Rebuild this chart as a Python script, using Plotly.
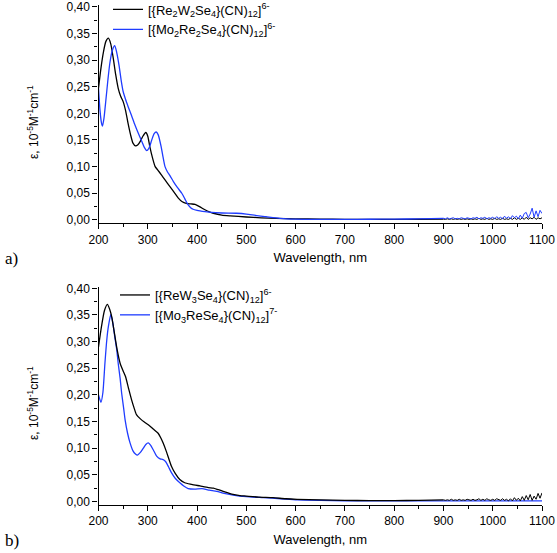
import plotly.graph_objects as go

# ---------------- data ----------------
# panel a) [{Re2W2Se4}(CN)12]6-
a_black_nm = [200, 205, 210, 215, 220, 225, 230, 235, 240, 245, 250, 255, 260, 265, 270, 275,
              280, 285, 290, 296, 300, 304, 310, 315, 320, 328, 335, 345, 355, 362, 370, 378,
              388, 396, 405, 416, 425, 433, 450, 467, 500, 530, 560, 600, 650, 700, 750, 800,
              850, 900]
a_black_val = [0.247, 0.285, 0.315, 0.335, 0.341, 0.330, 0.303, 0.272, 0.247, 0.232, 0.222,
               0.205, 0.181, 0.160, 0.144, 0.139, 0.141, 0.148, 0.157, 0.164, 0.157, 0.138,
               0.115, 0.100, 0.094, 0.084, 0.075, 0.0625, 0.050, 0.041, 0.034, 0.031, 0.030,
               0.029, 0.025, 0.019, 0.015, 0.0125, 0.009, 0.0075, 0.0055, 0.004, 0.003, 0.002,
               0.0015, 0.001, 0.001, 0.001, 0.0012, 0.0015]

# panel a) [{Mo2Re2Se4}(CN)12]6-
a_blue_nm = [200, 203, 206, 208, 211, 215, 219, 223, 228, 233, 237, 242, 246, 250, 255, 260,
             267, 274, 281, 288, 293, 298, 303, 308, 313, 317, 321, 327, 331, 335, 340, 345,
             352, 360, 369, 375, 382, 387, 392, 400, 416, 430, 450, 480, 500, 521, 540, 568,
             600, 650, 700, 750, 800, 850, 900]
a_blue_val = [0.247, 0.206, 0.182, 0.176, 0.190, 0.225, 0.262, 0.294, 0.318, 0.327, 0.314,
              0.288, 0.262, 0.241, 0.226, 0.213, 0.196, 0.178, 0.162, 0.147, 0.136, 0.130,
              0.136, 0.150, 0.162, 0.165, 0.160, 0.138, 0.118, 0.100, 0.090, 0.083, 0.072,
              0.061, 0.050, 0.040, 0.028, 0.023, 0.020, 0.018, 0.0156, 0.014, 0.013, 0.0125,
              0.011, 0.008, 0.006, 0.003, 0.0015, 0.001, 0.001, 0.0012, 0.0015, 0.002, 0.003]

# noisy tail 900-1100 nm
tail_nm = [900, 904, 908, 912, 916, 920, 924, 928, 932, 936, 940, 944, 948, 952, 956, 960,
           964, 968, 972, 976, 980, 984, 988, 992, 996, 1000, 1004, 1008, 1012, 1016, 1020,
           1024, 1028, 1032, 1036, 1040, 1044, 1048, 1052, 1056, 1060, 1064, 1068, 1072, 1076,
           1080, 1084, 1088, 1092, 1096, 1100]
a_black_tail = [0.0015, 0.001, 0.002, 0.001, 0.002, 0.001, 0.002, 0.001, 0.002, 0.001, 0.002,
                0.001, 0.002, 0.001, 0.002, 0.001, 0.002, 0.001, 0.003, 0.001, 0.002, 0.001,
                0.003, 0.001, 0.002, 0.001, 0.003, 0.001, 0.002, 0.001, 0.003, 0.001, 0.002,
                0.001, 0.003, 0.001, 0.004, 0.001, 0.003, 0.001, 0.004, 0.001, 0.005, 0.001,
                0.004, 0.002, 0.005, 0.001, 0.004, 0.002, 0.004]
a_blue_tail = [0.003, 0.002, 0.004, 0.002, 0.003, 0.004, 0.002, 0.003, 0.002, 0.004, 0.003,
               0.002, 0.004, 0.003, 0.002, 0.004, 0.003, 0.005, 0.002, 0.004, 0.003, 0.005,
               0.002, 0.004, 0.003, 0.005, 0.002, 0.006, 0.003, 0.005, 0.002, 0.007, 0.003,
               0.006, 0.002, 0.008, 0.004, 0.007, 0.002, 0.009, 0.003, 0.012, 0.014, 0.004,
               0.011, 0.022, 0.005, 0.017, 0.006, 0.018, 0.012]

# panel b) [{ReW3Se4}(CN)12]6-
b_black_nm = [200, 206, 212, 218, 223, 227, 233, 238, 244, 250, 255, 261, 267, 272, 277, 285,
              293, 301, 311, 321, 326, 331, 338, 348, 356, 365, 375, 389, 406, 423, 433, 443,
              453, 463, 473, 487, 500, 525, 554, 580, 603, 650, 700, 750, 800, 850, 900]
b_black_val = [0.290, 0.328, 0.358, 0.370, 0.360, 0.346, 0.312, 0.284, 0.259, 0.245, 0.234,
               0.212, 0.191, 0.176, 0.163, 0.155, 0.149, 0.144, 0.136, 0.128, 0.120, 0.110,
               0.093, 0.066, 0.052, 0.041, 0.035, 0.032, 0.029, 0.026, 0.025, 0.022, 0.019,
               0.016, 0.013, 0.011, 0.010, 0.008, 0.007, 0.005, 0.004, 0.003, 0.002, 0.0015,
               0.0015, 0.002, 0.003]
b_black_tail = [0.003, 0.002, 0.003, 0.002, 0.004, 0.002, 0.003, 0.002, 0.004, 0.002, 0.003,
                0.002, 0.004, 0.003, 0.002, 0.004, 0.002, 0.003, 0.005, 0.002, 0.004, 0.002,
                0.005, 0.003, 0.002, 0.004, 0.002, 0.005, 0.003, 0.002, 0.005, 0.002, 0.004,
                0.001, 0.005, 0.001, 0.007, 0.002, 0.006, 0.001, 0.009, 0.002, 0.011, 0.003,
                0.013, 0.002, 0.010, 0.004, 0.015, 0.006, 0.016]

# panel b) [{Mo3ReSe4}(CN)12]7-
b_blue_nm = [200, 205, 209, 213, 217, 220, 225, 229, 233, 237, 240, 244, 247, 251, 254, 259,
             264, 270, 275, 279, 285, 291, 296, 301, 306, 311, 318, 325, 330, 336, 342, 348,
             356, 365, 373, 382, 395, 410, 425, 440, 455, 473, 500, 534, 570, 603, 650, 700,
             800, 900, 1000, 1100]
b_blue_val = [0.200, 0.186, 0.205, 0.259, 0.305, 0.328, 0.351, 0.335, 0.309, 0.285, 0.259,
              0.230, 0.203, 0.175, 0.153, 0.128, 0.110, 0.095, 0.089, 0.087, 0.092, 0.100,
              0.107, 0.110, 0.105, 0.097, 0.085, 0.080, 0.079, 0.075, 0.065, 0.054, 0.043,
              0.035, 0.029, 0.024, 0.023, 0.024, 0.021, 0.019, 0.015, 0.012, 0.009, 0.007,
              0.005, 0.003, 0.002, 0.0012, 0.001, 0.001, 0.001, 0.001]

names_a = ["[{Re<sub>2</sub>W<sub>2</sub>Se<sub>4</sub>}(CN)<sub>12</sub>]<sup>6-</sup>",
           "[{Mo<sub>2</sub>Re<sub>2</sub>Se<sub>4</sub>}(CN)<sub>12</sub>]<sup>6-</sup>"]
names_b = ["[{ReW<sub>3</sub>Se<sub>4</sub>}(CN)<sub>12</sub>]<sup>6-</sup>",
           "[{Mo<sub>3</sub>ReSe<sub>4</sub>}(CN)<sub>12</sub>]<sup>7-</sup>"]

x_tickvals = [200, 300, 400, 500, 600, 700, 800, 900, 1000, 1100]
x_ticktext = ["200", "300", "400", "500", "600", "700", "800", "900", "1000", "1100"]
y_tickvals = [0.00, 0.05, 0.10, 0.15, 0.20, 0.25, 0.30, 0.35, 0.40]
y_ticktext = ["0,00", "0,05", "0,10", "0,15", "0,20", "0,25", "0,30", "0,35", "0,40"]

BLACK = "#000000"
BLUE = "#1f3cff"
FONT = "Liberation Sans, Arial, sans-serif"
LW = 1.3

fig = go.Figure()

def add_series(nm, val, tail_x, tail_y, color, name, xa, ya, legend, rank):
    fig.add_trace(go.Scatter(x=nm, y=val, mode="lines", name=name,
                             line=dict(color=color, width=LW, shape="spline", smoothing=0.6),
                             xaxis=xa, yaxis=ya, legend=legend, legendrank=rank,
                             hoverinfo="skip"))
    if tail_x is not None:
        fig.add_trace(go.Scatter(x=tail_x, y=tail_y, mode="lines", showlegend=False,
                                 line=dict(color=color, width=1.0),
                                 xaxis=xa, yaxis=ya, hoverinfo="skip"))

# panel a: black below blue
add_series(a_black_nm, a_black_val, tail_nm, a_black_tail, BLACK, names_a[0], "x", "y", "legend", 1)
add_series(a_blue_nm, a_blue_val, tail_nm, a_blue_tail, BLUE, names_a[1], "x", "y", "legend", 2)
# panel b: blue below black
add_series(b_blue_nm, b_blue_val, None, None, BLUE, names_b[1], "x2", "y2", "legend2", 2)
add_series(b_black_nm, b_black_val, tail_nm, b_black_tail, BLACK, names_b[0], "x2", "y2", "legend2", 1)

W, H = 557, 553
xdom = [98.5 / W, 542 / W]
ydom_a = [1 - 223 / H, 1 - 4.9 / H]
ydom_b = [1 - 504.5 / H, 1 - 286.5 / H]
yrange = [-0.0058, 0.4035]

xaxis_common = dict(range=[200, 1100], domain=xdom, showline=True, linecolor="black",
                    linewidth=1.3, ticks="outside", ticklen=5, tickwidth=1.2, tickcolor="black",
                    tickvals=x_tickvals, ticktext=x_ticktext, showgrid=False, zeroline=False,
                    automargin=False, ticklabeloverflow="allow",
                    tickfont=dict(family=FONT, size=12, color="black"),
                    minor=dict(dtick=50, tick0=200, ticks="outside", ticklen=3, tickwidth=1.1,
                               tickcolor="black", showgrid=False),
                    title=dict(text="Wavelength, nm", font=dict(family=FONT, size=13, color="black"),
                               standoff=7))
yaxis_common = dict(range=yrange, showline=True, linecolor="black", linewidth=1.3,
                    ticks="outside", ticklen=5, tickwidth=1.2, tickcolor="black",
                    tickvals=y_tickvals, ticktext=y_ticktext, showgrid=False, zeroline=False,
                    automargin=False, ticklabeloverflow="allow",
                    tickfont=dict(family=FONT, size=12, color="black"),
                    minor=dict(dtick=0.025, tick0=0, ticks="outside", ticklen=3, tickwidth=1.1,
                               tickcolor="black", showgrid=False))

fig.update_layout(
    width=W, height=H, autosize=False,
    margin=dict(l=0, r=0, t=0, b=0, autoexpand=False),
    paper_bgcolor="white", plot_bgcolor="white",
    xaxis=dict(anchor="y", **xaxis_common),
    yaxis=dict(anchor="x", domain=ydom_a, **yaxis_common),
    xaxis2=dict(anchor="y2", **xaxis_common),
    yaxis2=dict(anchor="x2", domain=ydom_b, **yaxis_common),
    legend=dict(x=108 / W, y=1 + 5.5 / H, xanchor="left", yanchor="top",
                bgcolor="rgba(0,0,0,0)", font=dict(family=FONT, size=13, color="black"),
                tracegroupgap=0),
    legend2=dict(x=115 / W, y=1 - 280 / H, xanchor="left", yanchor="top",
                 bgcolor="rgba(0,0,0,0)", font=dict(family=FONT, size=13, color="black"),
                 tracegroupgap=0),
    annotations=[
        dict(text="ε, 10<sup>-5</sup>M<sup>-1</sup>cm<sup>-1</sup>", textangle=-90,
             x=33 / W, y=1 - 122 / H, xref="paper", yref="paper", showarrow=False,
             xanchor="center", yanchor="middle", font=dict(family=FONT, size=12, color="black")),
        dict(text="ε, 10<sup>-5</sup>M<sup>-1</sup>cm<sup>-1</sup>", textangle=-90,
             x=33 / W, y=1 - 403 / H, xref="paper", yref="paper", showarrow=False,
             xanchor="center", yanchor="middle", font=dict(family=FONT, size=12, color="black")),
        dict(text="a)", x=3 / W, y=1 - 258 / H, xref="paper", yref="paper", showarrow=False,
             xanchor="left", yanchor="middle",
             font=dict(family="Liberation Serif, Times New Roman, serif", size=17, color="black")),
        dict(text="b)", x=3 / W, y=1 - 540 / H, xref="paper", yref="paper", showarrow=False,
             xanchor="left", yanchor="middle",
             font=dict(family="Liberation Serif, Times New Roman, serif", size=17, color="black")),
    ],
)

fig.write_html("out.html", config={"displayModeBar": False},
               post_script="document.body.style.margin='0px';document.body.style.overflow='hidden';")
